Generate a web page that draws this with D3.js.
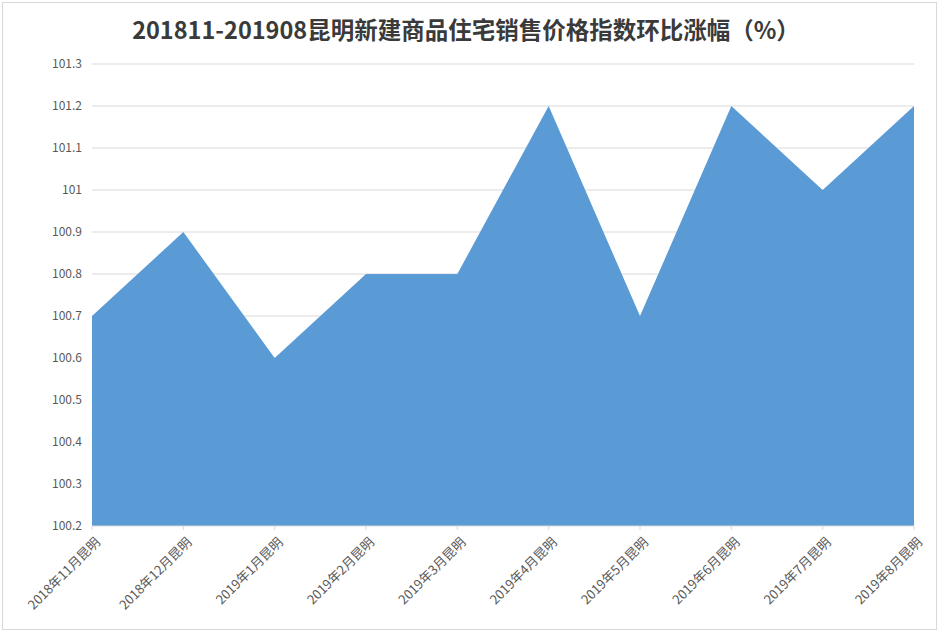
<!DOCTYPE html>
<html>
<head>
<meta charset="utf-8">
<script src="https://cdn.jsdelivr.net/npm/d3@7"></script>
<style>
  body { margin: 0; background: #fff; }
  svg { display: block; font-family: "Microsoft YaHei", "Noto Sans CJK SC", sans-serif; }
</style>
</head>
<body>
<svg id="chart" width="940" height="632"></svg>
<script>
const months = ["2018年11月昆明", "2018年12月昆明", "2019年1月昆明", "2019年2月昆明", "2019年3月昆明",
  "2019年4月昆明", "2019年5月昆明", "2019年6月昆明", "2019年7月昆明", "2019年8月昆明"];
const indexValues = [100.7, 100.9, 100.6, 100.8, 100.8, 101.2, 100.7, 101.2, 101.0, 101.2];
const yTicks = [100.2, 100.3, 100.4, 100.5, 100.6, 100.7, 100.8, 100.9, 101, 101.1, 101.2, 101.3];
const title = "201811-201908昆明新建商品住宅销售价格指数环比涨幅（%）";

const W = 940, H = 632;
const margin = { top: 64, right: 26, bottom: 106, left: 92 };
const svg = d3.select("#chart");

// outer frame
svg.append("rect").attr("x", 2.5).attr("y", 2.5).attr("width", W - 6).attr("height", H - 5)
  .attr("fill", "#fff").attr("stroke", "#d9d9d9").attr("stroke-width", 1);

const x = d3.scalePoint().domain(months).range([margin.left, W - margin.right]);
const y = d3.scaleLinear().domain([100.2, 101.3]).range([H - margin.bottom, margin.top]);

svg.append("text").attr("x", 466).attr("y", 39).attr("text-anchor", "middle")
  .style("font-size", "23.5px").style("font-weight", "700").style("fill", "#3a3a3a")
  .text(title);

// gridlines
svg.append("g").selectAll("line").data(yTicks.slice(1)).join("line")
  .attr("x1", margin.left).attr("x2", W - margin.right)
  .attr("y1", d => y(d)).attr("y2", d => y(d))
  .attr("stroke", "#d9d9d9").attr("stroke-width", 1);

// area
const area = d3.area()
  .x((d, i) => x(months[i]))
  .y0(y(100.2))
  .y1(d => y(d));
svg.append("path").datum(indexValues).attr("d", area).attr("fill", "#5b9bd5");

// y axis labels
svg.append("g").selectAll("text").data(yTicks).join("text")
  .attr("x", margin.left - 10).attr("y", d => y(d) + 4)
  .attr("text-anchor", "end")
  .style("font-size", "12px").style("fill", "#595959")
  .text(d => d);

// x axis line + ticks
svg.append("line").attr("x1", margin.left).attr("x2", W - margin.right)
  .attr("y1", y(100.2)).attr("y2", y(100.2)).attr("stroke", "#d9d9d9");
svg.append("g").selectAll("line").data(months).join("line")
  .attr("x1", d => x(d)).attr("x2", d => x(d))
  .attr("y1", y(100.2)).attr("y2", y(100.2) + 4).attr("stroke", "#d9d9d9");

svg.append("g").selectAll("text").data(months).join("text")
  .attr("transform", d => `translate(${x(d) + 9},${y(100.2) + 17}) rotate(-45)`)
  .attr("text-anchor", "end")
  .style("font-size", "13px").style("fill", "#595959")
  .text(d => d);
</script>
</body>
</html>
